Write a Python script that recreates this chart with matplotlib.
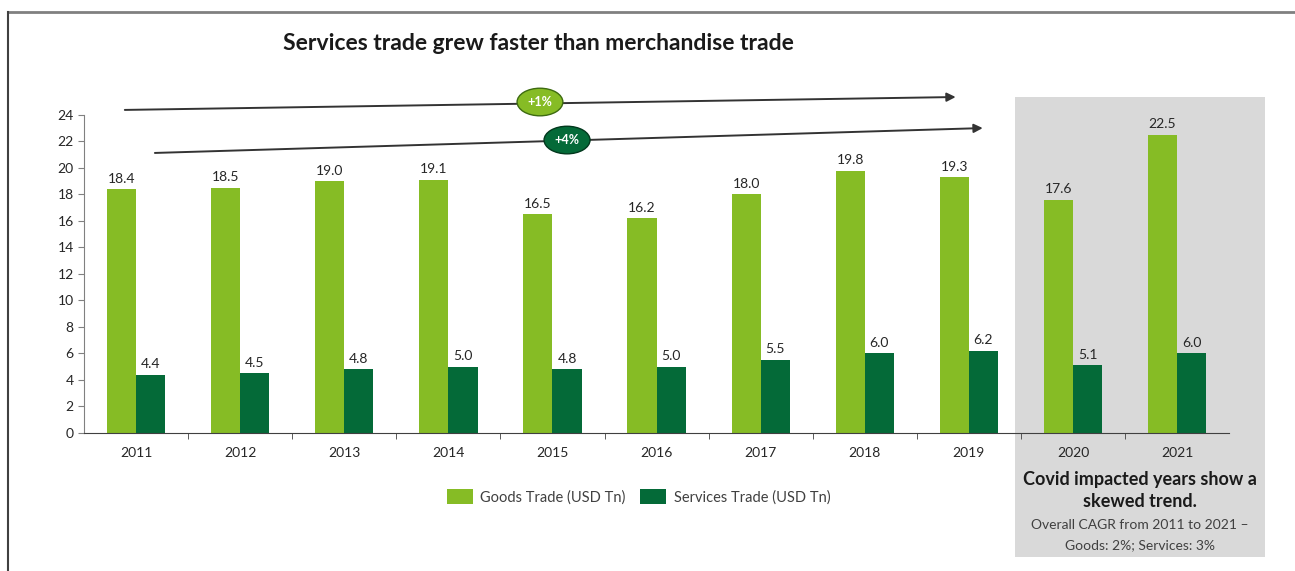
import matplotlib
matplotlib.use("Agg")
import matplotlib.pyplot as plt
import numpy as np
from matplotlib.patches import Rectangle
from matplotlib.lines import Line2D

plt.rcParams['font.family'] = ['Lato', 'DejaVu Sans']

years = ['2011', '2012', '2013', '2014', '2015', '2016', '2017', '2018', '2019', '2020', '2021']
goods = [18.4, 18.5, 19.0, 19.1, 16.5, 16.2, 18.0, 19.8, 19.3, 17.6, 22.5]
services = [4.4, 4.5, 4.8, 5.0, 4.8, 5.0, 5.5, 6.0, 6.2, 5.1, 6.0]
y_ticks = list(range(0, 25, 2))

GOODS_C = '#86bc25'
SERV_C = '#046a38'

fig = plt.figure(figsize=(12.95, 5.71), dpi=100)
fig.patch.set_facecolor('white')

# shaded panel for the covid years
fig.patches.append(Rectangle((0.784, 0.0245), 0.193, 0.8055, transform=fig.transFigure,
                             facecolor='#d9d9d9', edgecolor='none', zorder=-1))
# outer frame lines
fig.add_artist(Line2D([0.006, 1.0], [0.979, 0.979], transform=fig.transFigure,
                      color='#808080', lw=2))
fig.add_artist(Line2D([0.0065, 0.0065], [0.0, 0.979], transform=fig.transFigure,
                      color='#404040', lw=1.5))

ax = fig.add_axes([0.0649, 0.2417, 0.8842, 0.5569])
ax.patch.set_alpha(0)

x = np.arange(len(years))
w = 0.28
b1 = ax.bar(x - w / 2, goods, w, color=GOODS_C, label='Goods Trade (USD Tn)')
b2 = ax.bar(x + w / 2, services, w, color=SERV_C, label='Services Trade (USD Tn)')

for rect, v in zip(b1, goods):
    ax.text(rect.get_x() + rect.get_width() / 2, v + 0.35, f'{v:.1f}',
            ha='center', va='bottom', fontsize=10, color='#262626')
for rect, v in zip(b2, services):
    ax.text(rect.get_x() + rect.get_width() / 2, v + 0.35, f'{v:.1f}',
            ha='center', va='bottom', fontsize=10, color='#262626')

ax.set_xlim(-0.5, len(years) - 0.5)
ax.set_ylim(0, 24)
ax.set_yticks(y_ticks)
ax.tick_params(axis='y', labelsize=10, colors='#262626', length=4, color='#808080')
ax.set_xticks(x)
ax.set_xticklabels(years)
ax.tick_params(axis='x', length=0, labelsize=10, colors='#262626', pad=10)
ax.set_xticks(np.arange(0.5, len(years) - 0.5, 1), minor=True)
ax.tick_params(axis='x', which='minor', length=4, color='#404040', direction='out')

for s in ['top', 'right']:
    ax.spines[s].set_visible(False)
ax.spines['left'].set_color('#808080')
ax.spines['bottom'].set_color('#404040')

# growth arrows
ax.annotate('', xy=(7.90, 25.36), xytext=(-0.135, 24.38),
            arrowprops=dict(arrowstyle='-|>', color='#333333', lw=1.4, mutation_scale=13),
            annotation_clip=False)
ax.annotate('', xy=(8.16, 23.02), xytext=(0.154, 21.13),
            arrowprops=dict(arrowstyle='-|>', color='#333333', lw=1.4, mutation_scale=13),
            annotation_clip=False)
ax.text(3.88, 24.98, '+1%', ha='center', va='center', fontsize=9, fontweight='bold',
        color='white', clip_on=False,
        bbox=dict(boxstyle='ellipse,pad=0.3', facecolor=GOODS_C, edgecolor='#3d6b10', lw=1))
ax.text(4.14, 22.11, '+4%', ha='center', va='center', fontsize=9, fontweight='bold',
        color='white', clip_on=False,
        bbox=dict(boxstyle='ellipse,pad=0.3', facecolor=SERV_C, edgecolor='#02381d', lw=1))

fig.text(0.416, 0.923, 'Services trade grew faster than merchandise trade',
         ha='center', va='center', fontsize=16.5, fontweight='bold', color='#1a1a1a')

fig.legend(handles=[b1, b2], loc='center', bbox_to_anchor=(0.493, 0.1296), ncol=2,
           frameon=False, fontsize=10.5, handlelength=1.8, handleheight=1.2,
           columnspacing=1.0, handletextpad=0.5, labelcolor='#404040')

fig.text(0.880, 0.160, 'Covid impacted years show a', ha='center', va='center',
         fontsize=13, fontweight='bold', color='#1a1a1a')
fig.text(0.880, 0.121, 'skewed trend.', ha='center', va='center',
         fontsize=13, fontweight='bold', color='#1a1a1a')
fig.text(0.880, 0.080, 'Overall CAGR from 2011 to 2021 \u2013', ha='center', va='center',
         fontsize=10, color='#404040')
fig.text(0.880, 0.045, 'Goods: 2%; Services: 3%', ha='center', va='center',
         fontsize=10, color='#404040')

fig.savefig('out.png', dpi=100)
